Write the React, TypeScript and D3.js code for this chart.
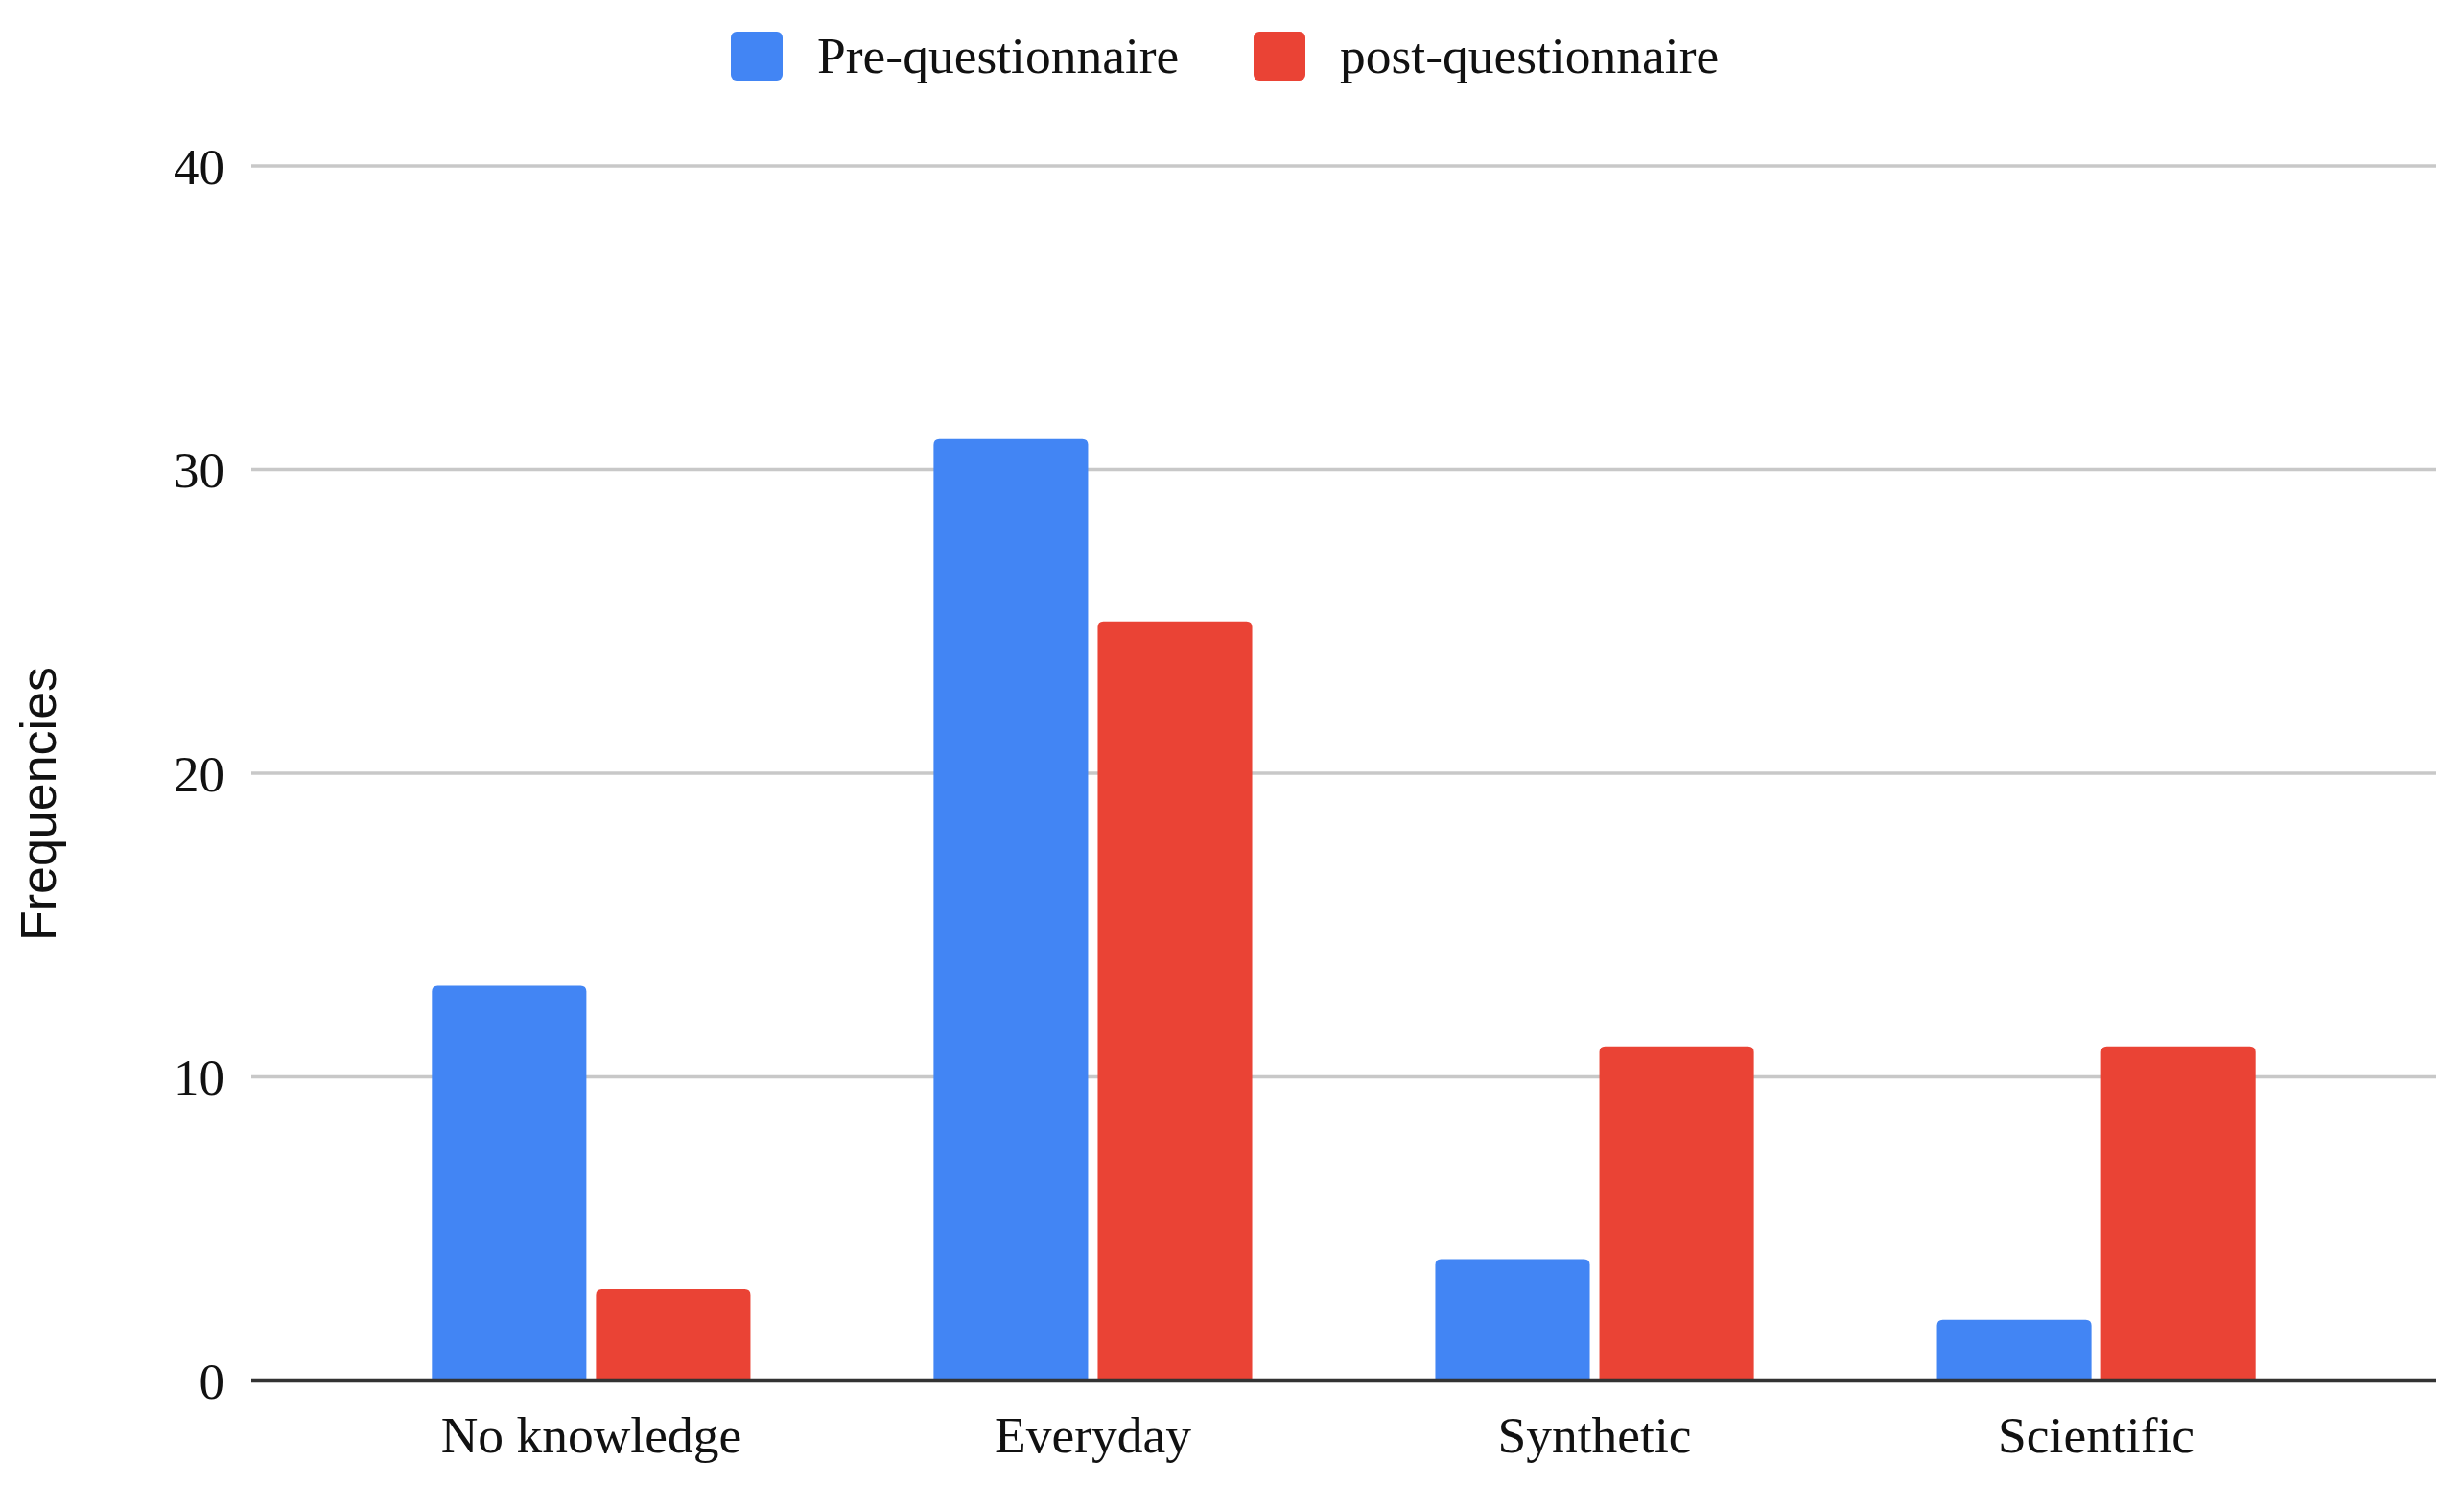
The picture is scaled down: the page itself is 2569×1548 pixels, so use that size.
import React from "react";
import * as d3 from "d3";

const categories = ["No knowledge", "Everyday", "Synthetic", "Scientific"];
const seriesNames = ["Pre-questionnaire", "post-questionnaire"];
const preValues = [13, 31, 4, 2];
const postValues = [3, 25, 11, 11];
const yTicks = [0, 10, 20, 30, 40];
const colors = ["#4285F4", "#EA4335"];

const W = 2569;
const H = 1548;
const plot = { left: 262, right: 2540, top: 173, bottom: 1439 };

function topRoundedRect(x: number, y: number, w: number, h: number, r: number) {
  const rr = Math.min(r, w / 2, h);
  return `M${x},${y + h}V${y + rr}Q${x},${y} ${x + rr},${y}H${x + w - rr}Q${x + w},${y} ${x + w},${y + rr}V${y + h}Z`;
}

export default function App() {
  const x0 = d3
    .scaleBand<string>()
    .domain(categories)
    .range([plot.left, plot.right])
    .paddingInner(0.365)
    .paddingOuter(0.36);
  const x1 = d3
    .scaleBand<string>()
    .domain(seriesNames)
    .range([0, x0.bandwidth()])
    .paddingInner(0.0585)
    .paddingOuter(0);
  const y = d3.scaleLinear().domain([0, 40]).range([plot.bottom, plot.top]);

  const seriesValues = [preValues, postValues];
  const serif = "'Liberation Serif', 'Times New Roman', serif";
  const sans = "'Liberation Sans', Arial, sans-serif";

  const legendItems = [
    { sx: 762, tx: 852 },
    { sx: 1307, tx: 1397 },
  ];

  return (
    <svg
      width={W}
      height={H}
      viewBox={`0 0 ${W} ${H}`}
      style={{ position: "absolute", left: 0, top: 0, background: "#fff" }}
    >
      <rect x={0} y={0} width={W} height={H} fill="#fff" />
      {yTicks.map((t) =>
        t === 0 ? null : (
          <line
            key={t}
            x1={plot.left}
            x2={plot.right}
            y1={y(t)}
            y2={y(t)}
            stroke="#c8c8c8"
            strokeWidth={3.5}
          />
        )
      )}
      {yTicks.map((t) => (
        <text
          key={"l" + t}
          x={234}
          y={y(t)}
          dy="0.35em"
          textAnchor="end"
          fontFamily={serif}
          fontSize={53}
          fill="#111"
        >
          {t}
        </text>
      ))}
      {categories.map((c, i) => (
        <g key={c} transform={`translate(${x0(c)},0)`}>
          {seriesNames.map((s, j) => {
            const v = seriesValues[j][i];
            const bx = x1(s) as number;
            const by = y(v);
            return (
              <path
                key={s}
                d={topRoundedRect(bx, by, x1.bandwidth(), y(0) - by, 6)}
                fill={colors[j]}
              />
            );
          })}
        </g>
      ))}
      <line
        x1={plot.left}
        x2={plot.right}
        y1={y(0)}
        y2={y(0)}
        stroke="#333333"
        strokeWidth={4.5}
      />
      {categories.map((c) => (
        <text
          key={"x" + c}
          x={(x0(c) as number) + x0.bandwidth() / 2}
          y={1514}
          textAnchor="middle"
          fontFamily={serif}
          fontSize={53.5}
          fill="#111"
        >
          {c}
        </text>
      ))}
      <text
        transform={`translate(58,838) rotate(-90)`}
        textAnchor="middle"
        fontFamily={sans}
        fontSize={52}
        fill="#111"
      >
        Frequencies
      </text>
      {seriesNames.map((s, j) => (
        <g key={"lg" + s}>
          <rect
            x={legendItems[j].sx}
            y={33}
            width={54}
            height={51}
            rx={6}
            ry={6}
            fill={colors[j]}
          />
          <text
            x={legendItems[j].tx}
            y={76}
            fontFamily={serif}
            fontSize={53.5}
            fill="#111"
          >
            {s}
          </text>
        </g>
      ))}
    </svg>
  );
}
